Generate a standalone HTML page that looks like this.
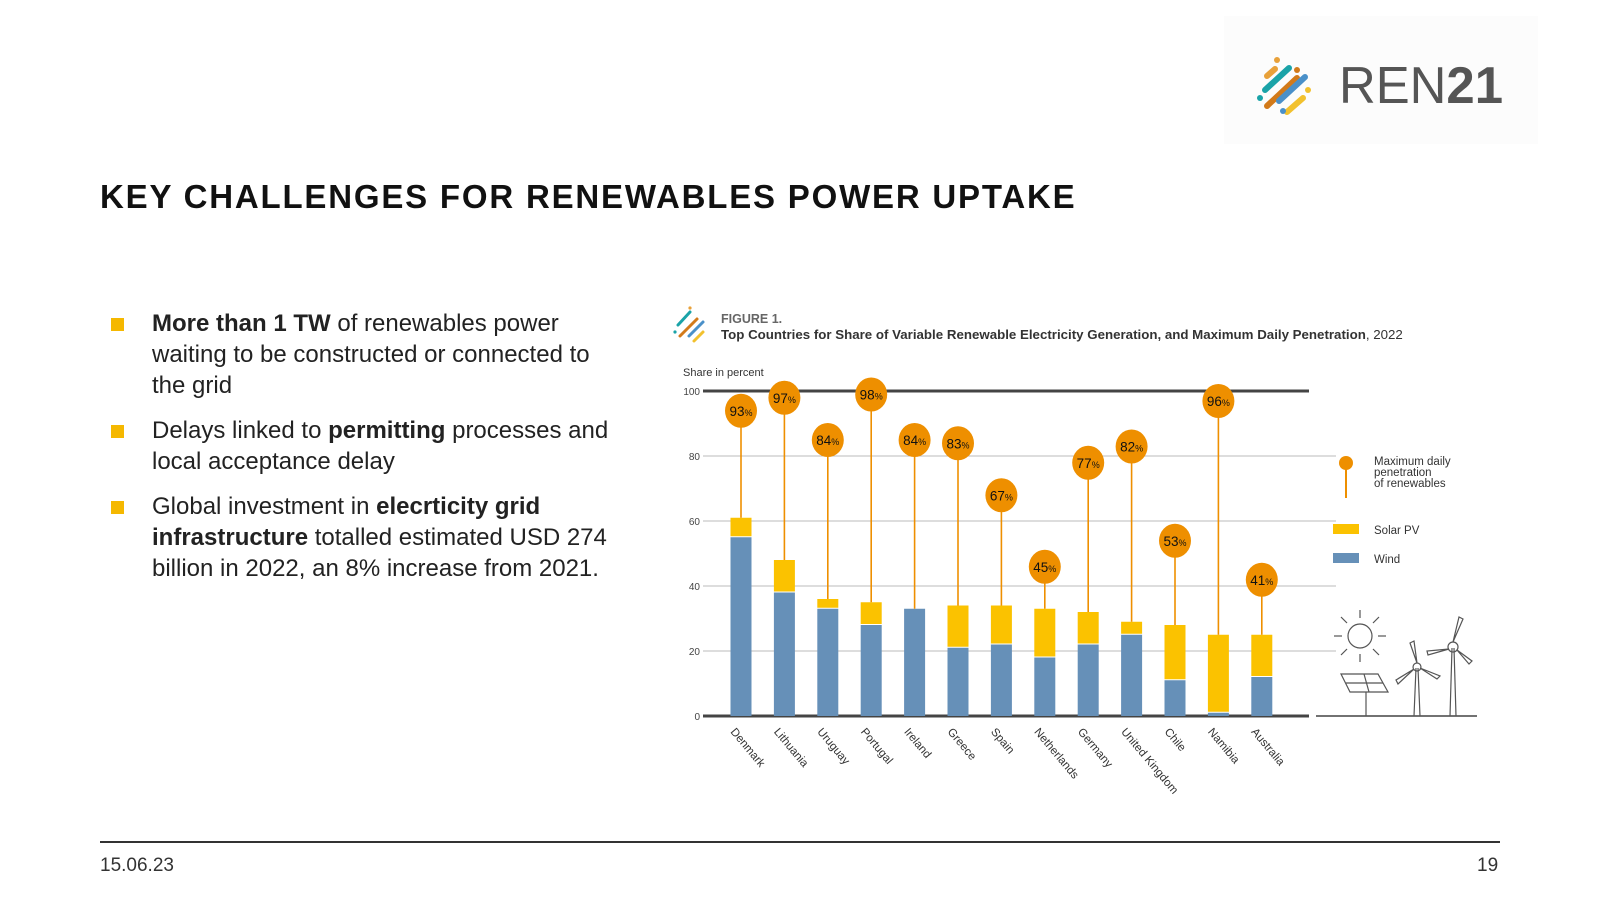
<!DOCTYPE html>
<html><head><meta charset="utf-8"><style>
body{margin:0;width:1600px;height:900px;background:#fff;font-family:"Liberation Sans",sans-serif;overflow:hidden;position:relative}
.t{position:absolute}
</style></head><body>
<div class="t" style="left:1224px;top:16px;width:314px;height:128px;background:#fcfcfc"></div>
<svg class="t" style="left:1255px;top:50px" width="270" height="68" viewBox="0 0 270 68">
<g stroke-linecap="round" stroke-width="6">
<line x1="12" y1="26" x2="20" y2="19" stroke="#e8a13a"/>
<line x1="10" y1="40" x2="34" y2="18" stroke="#1aa3a8"/>
<line x1="12" y1="56" x2="42" y2="28" stroke="#d27a1a"/>
<line x1="24" y1="51" x2="50" y2="27" stroke="#4a90c9"/>
<line x1="32" y1="62" x2="48" y2="48" stroke="#f2c12e"/>
</g>
<circle cx="22" cy="10" r="3" fill="#e8a13a"/><circle cx="42" cy="20" r="3" fill="#d27a1a"/><circle cx="5" cy="48" r="3" fill="#1aa3a8"/><circle cx="28" cy="61" r="3" fill="#4a90c9"/><circle cx="53" cy="40" r="3" fill="#f2c12e"/>
<text x="84" y="53" font-family="Liberation Sans" font-size="52" fill="#555" textLength="164" lengthAdjust="spacingAndGlyphs">REN<tspan font-weight="bold">21</tspan></text>
</svg>
<div class="t" style="left:100px;top:178px;font-size:33px;font-weight:bold;letter-spacing:1.8px;color:#111">KEY CHALLENGES FOR RENEWABLES POWER UPTAKE</div>
<div class="t" style="left:111px;top:308px;width:560px;font-size:24px;line-height:31px;color:#222;white-space:nowrap">
<div style="position:relative;padding-left:41px;margin-bottom:14px"><span style="position:absolute;left:0;top:10px;width:13px;height:13px;background:#f5b800"></span><b>More than 1 TW</b> of renewables power<br>waiting to be constructed or connected to<br>the grid</div>
<div style="position:relative;padding-left:41px;margin-bottom:14px"><span style="position:absolute;left:0;top:10px;width:13px;height:13px;background:#f5b800"></span>Delays linked to <b>permitting</b> processes and<br>local acceptance delay</div>
<div style="position:relative;padding-left:41px"><span style="position:absolute;left:0;top:10px;width:13px;height:13px;background:#f5b800"></span>Global investment in <b>elecrticity grid</b><br><b>infrastructure</b> totalled estimated USD 274<br>billion in 2022, an 8% increase from 2021.</div>
</div>
<svg class="t" id="chart" style="left:0;top:0" width="1600" height="900"></svg>
<div class="t" style="left:100px;top:841px;width:1400px;height:2px;background:#333"></div>
<div class="t" style="left:100px;top:855px;font-size:19px;color:#333">15.06.23</div>
<div class="t" style="left:1477px;top:855px;font-size:19px;color:#333">19</div>
<script>
const countries=["Denmark","Lithuania","Uruguay","Portugal","Ireland","Greece","Spain","Netherlands","Germany","United Kingdom","Chile","Namibia","Australia"];
const wind=[55,38,33,28,33,21,22,18,22,25,11,1,12];
const solar=[6,10,3,7,0,13,12,15,10,4,17,24,13];
const maxPen=[93,97,84,98,84,83,67,45,77,82,53,96,41];
const yTicks=[0,20,40,60,80,100];
const NS="http://www.w3.org/2000/svg";
const svg=document.getElementById('chart');
const yb=716,yt=391;
const y=v=>yb-(yb-yt)*v/100;
const step=43.4;
const xc=i=>741+step*i;
function el(tag,at,txt){const e=document.createElementNS(NS,tag);for(const k in at)e.setAttribute(k,at[k]);if(txt!=null)e.textContent=txt;svg.appendChild(e);return e;}
let e;
e=el('text',{x:721,y:323,'font-size':12.5,'font-weight':'bold',fill:'#666'},'FIGURE 1.');


e=el('text',{x:721,y:339,'font-size':13.3,fill:'#333'});
e.innerHTML='<tspan font-weight="bold">Top Countries for Share of Variable Renewable Electricity Generation, and Maximum Daily Penetration</tspan>, 2022';


e=el('g',{});
e.innerHTML='<line x1="678" y1="325" x2="690" y2="312" stroke="#1aa3a8" stroke-width="3" stroke-linecap="round"/><line x1="680" y1="336" x2="697" y2="319" stroke="#d27a1a" stroke-width="3" stroke-linecap="round"/><line x1="689" y1="336" x2="703" y2="322" stroke="#4a90c9" stroke-width="3" stroke-linecap="round"/><line x1="694" y1="341" x2="703" y2="332" stroke="#f2c12e" stroke-width="3" stroke-linecap="round"/><circle cx="690" cy="308" r="1.6" fill="#e8a13a"/><circle cx="675" cy="332" r="1.6" fill="#1aa3a8"/>';


e=el('text',{x:683,y:376,'font-size':11,fill:'#333'},'Share in percent');


yTicks.forEach(t=>{
 const edge=(t===0||t===100);
 e=el('line',{x1:703,x2:edge?1309:1336,y1:y(t),y2:y(t),stroke:edge?'#444':'#bbb','stroke-width':edge?3:1});
 
 
 e=el('text',{x:700,y:y(t)+4,'font-size':10,fill:'#444','text-anchor':'end'},t);
 
 
});
countries.forEach((c,i)=>{
 const cx=xc(i),w=21;
 e=el('rect',{x:cx-w/2,y:y(wind[i]),width:w,height:y(0)-y(wind[i]),fill:'#6690b8'});
 
 
 if(solar[i]>0){
 e=el('rect',{x:cx-w/2,y:y(wind[i]+solar[i]),width:w,height:y(wind[i])-y(wind[i]+solar[i])-1,fill:'#fbc200'});
 
 
 }
 e=el('line',{x1:cx,x2:cx,y1:y(maxPen[i]),y2:y(wind[i]+solar[i]),stroke:'#ee8f00','stroke-width':1.6});
 
 
 e=el('ellipse',{cx:cx,cy:y(maxPen[i])-3,rx:16,ry:17,fill:'#ee8f00'});
 
 
 e=el('text',{x:cx,y:y(maxPen[i])+2,'font-size':13.5,'text-anchor':'middle',fill:'#111'});
 e.innerHTML=maxPen[i]+'<tspan font-size="9">%</tspan>';
 
 
 e=el('text',{x:cx-11,y:yb+16,'font-size':11.5,fill:'#333',transform:`rotate(50 ${cx-11} ${yb+16})`},c);
 
 
});
e=el('line',{x1:1316,x2:1477,y1:yb,y2:yb,stroke:'#444','stroke-width':1.5});


e=el('g',{});
e.innerHTML='<line x1="1346" y1="466" x2="1346" y2="498" stroke="#ee8f00" stroke-width="2"/><circle cx="1346" cy="463" r="7" fill="#ee8f00"/><text x="1374" y="465" font-size="11.5" fill="#333">Maximum daily</text><text x="1374" y="476" font-size="11.5" fill="#333">penetration</text><text x="1374" y="487" font-size="11.5" fill="#333">of renewables</text><rect x="1333" y="524" width="26" height="10" fill="#fbc200"/><text x="1374" y="534" font-size="11.5" fill="#333">Solar PV</text><rect x="1333" y="553" width="26" height="10" fill="#6690b8"/><text x="1374" y="563" font-size="11.5" fill="#333">Wind</text>';


e=el('g',{fill:'none',stroke:'#555','stroke-width':1.2});
e.innerHTML='<circle cx="1360" cy="636" r="12"/><line x1="1360" y1="610" x2="1360" y2="618"/><line x1="1360" y1="654" x2="1360" y2="662"/><line x1="1334" y1="636" x2="1342" y2="636"/><line x1="1378" y1="636" x2="1386" y2="636"/><line x1="1341" y1="617" x2="1347" y2="623"/><line x1="1379" y1="617" x2="1373" y2="623"/><line x1="1341" y1="655" x2="1347" y2="649"/><line x1="1379" y1="655" x2="1373" y2="649"/><polygon points="1341,674 1378,674 1388,692 1350,692"/><line x1="1364" y1="674" x2="1369" y2="692"/><line x1="1346" y1="683" x2="1383" y2="683"/><line x1="1366" y1="692" x2="1366" y2="716"/><line x1="1414" y1="716" x2="1416" y2="668"/><line x1="1420" y1="716" x2="1418" y2="668"/><circle cx="1417" cy="667" r="4"/><path d="M1417 663 L1410 643 L1414 641 Z M1420 668 L1440 676 L1437 679 Z M1414 669 L1398 684 L1396 680 Z"/><line x1="1450" y1="716" x2="1452" y2="648"/><line x1="1456" y1="716" x2="1454" y2="648"/><circle cx="1453" cy="647" r="5"/><path d="M1453 642 L1459 617 L1463 619 Z M1457 650 L1472 661 L1469 664 Z M1449 649 L1428 655 L1427 651 Z"/>';


</script>
</body></html>
